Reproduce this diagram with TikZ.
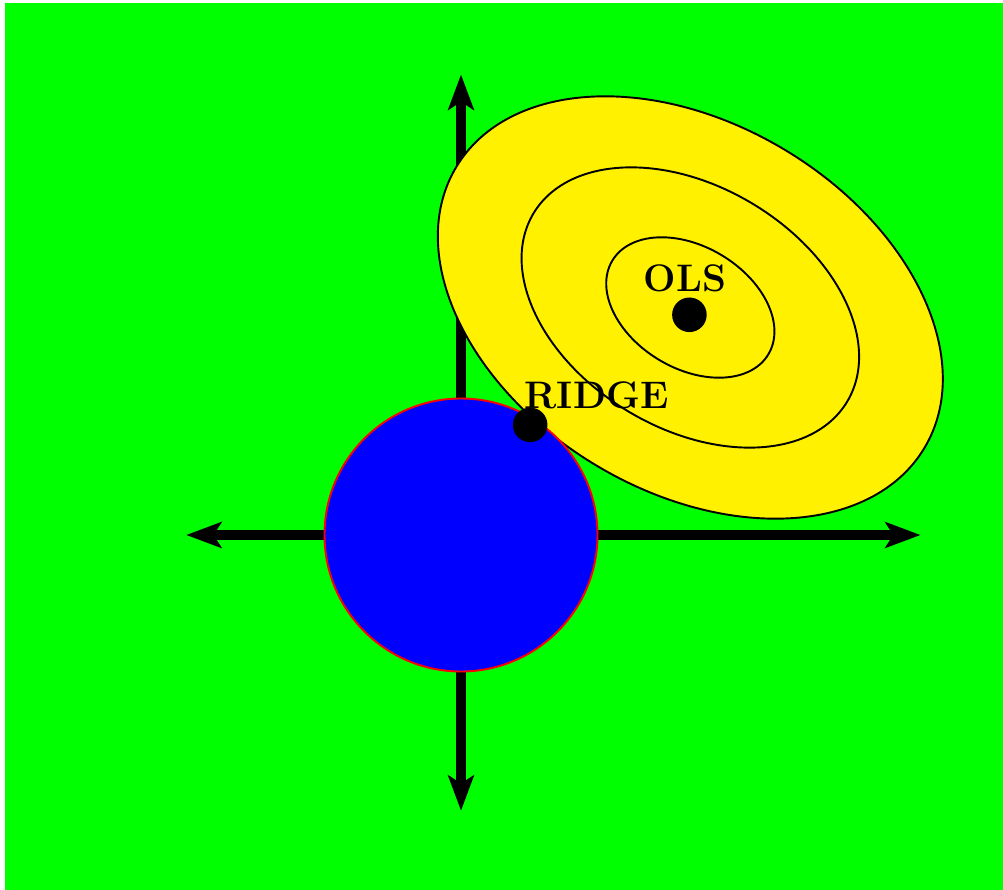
\documentclass[tikz,border=0pt]{standalone}
\usepackage{tikz}
\usetikzlibrary{arrows.meta}
\definecolor{fieldgreen}{RGB}{0,255,0}
\definecolor{lossyellow}{RGB}{255,241,0}

\begin{document}
\begin{tikzpicture}[
  axis/.style={line width=3pt,
               {Stealth[length=11pt, width=8pt, inset=2.5pt]}-{Stealth[length=11pt, width=8pt, inset=2.5pt]}},
  contour/.style={draw=black, semithick},
  penalty/.style={draw=red, fill=blue, semithick},
  dot/.style={circle, fill=black, inner sep=0pt, minimum size=3.8mm},
  tag/.style={font=\large\bfseries, anchor=base, inner sep=0pt}
]
\useasboundingbox (-5.066,-3.901) rectangle (5.956,5.879);
\fill[fieldgreen] (-5.01,-3.901) rectangle (5.956,5.846);

\coordinate (origin) at (0,0);
\coordinate (west) at (-3.02,0);
\coordinate (east) at (5.05,0);
\coordinate (south) at (0,-3.03);
\coordinate (north) at (0,5.06);
\coordinate (centre) at (2.52,2.5);

\draw[axis] (west) -- (east);
\draw[axis] (south) -- (north);

\draw[contour, fill=lossyellow, rotate around={-31:(centre)}] (centre) ellipse (3 and 2.02);
\draw[contour, rotate around={-31:(centre)}] (centre) ellipse (2.01 and 1.33);
\draw[contour, rotate around={-31:(centre)}] (centre) ellipse (1 and 0.67);

\draw[penalty] (origin) circle (1.5);

\node[dot] (ols) at (2.51,2.42) {};
\node[dot] (ridge) at (0.76,1.21) {};
\node[tag] (olstag) at (2.46,2.68) {OLS};
\node[tag] (ridgetag) at (1.49,1.385) {RIDGE};
\end{tikzpicture}
\end{document}
